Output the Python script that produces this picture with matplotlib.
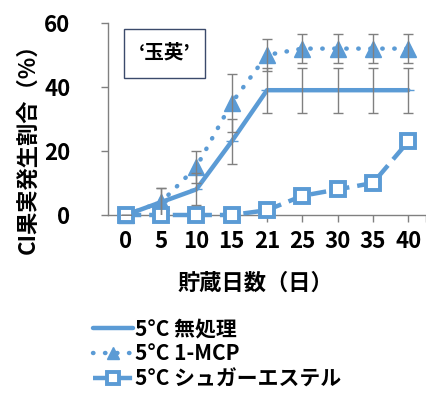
import matplotlib.pyplot as plt
import numpy as np

plt.rcParams['font.family'] = ['Noto Sans CJK JP', 'DejaVu Sans']

days = ['0', '5', '10', '15', '21', '25', '30', '35', '40']
control = [0, 4, 8, 23, 39, 39, 39, 39, 39]
control_err = [0, 4.5, 5, 7, 7, 7, 7, 7, 7]
mcp = [0, 4, 15, 35, 50, 52, 52, 52, 52]
mcp_err = [0, 4.5, 5, 9, 5, 4.5, 4.5, 4.5, 4.5]
sugar = [0, 0, 0, 0, 1.5, 6, 8, 10, 23]
labels = ['5°C 無処理', '5°C 1-MCP', '5°C シュガーエステル']

BLUE = '#5B9BD5'
GRAY = '#808080'

fig = plt.figure(figsize=(4.27, 3.93), dpi=100)
ax = fig.add_axes([108 / 427, 1 - 215 / 393, 318 / 427, 192 / 393])
x = np.arange(len(days))

l1, = ax.plot(x, control, color=BLUE, lw=3.2, solid_capstyle='round',
              marker='_', markersize=8, clip_on=False, zorder=3)
l2, = ax.plot(x, mcp, color=BLUE, lw=3.2, linestyle=(0, (0.1, 2.6)),
              dash_capstyle='round', marker='^', markersize=11,
              markerfacecolor=BLUE, markeredgecolor=BLUE, clip_on=False, zorder=3)
l3, = ax.plot(x, sugar, color=BLUE, lw=3.2, linestyle=(0, (3.5, 1.8)),
              marker='s', markersize=10, markerfacecolor='white',
              markeredgecolor=BLUE, markeredgewidth=2.8, clip_on=False, zorder=3)

# 標準誤差
ax.errorbar(x, control, yerr=control_err, fmt='none', ecolor=GRAY,
            elinewidth=1, capsize=3.5, capthick=1, zorder=4)
ax.errorbar(x, mcp, yerr=mcp_err, fmt='none', ecolor=GRAY,
            elinewidth=1, capsize=3.5, capthick=1, zorder=4)

ax.set_xlim(-0.5, 8.5)
ax.set_ylim(0, 60)
ax.set_yticks([0, 20, 40, 60])
ax.set_xticks(list(x) + [8.5])
ax.set_xticklabels(days + [''])
for s in ['top', 'right']:
    ax.spines[s].set_visible(False)
for s in ['left', 'bottom']:
    ax.spines[s].set_color(GRAY)
    ax.spines[s].set_linewidth(1)
ax.tick_params(axis='both', colors=GRAY, length=5, width=1, labelcolor='black')
ax.tick_params(axis='y', labelsize=16, pad=22)
ax.tick_params(axis='x', labelsize=16, pad=6)
for t in ax.get_xticklabels() + ax.get_yticklabels():
    t.set_fontweight('bold')

ax.text(0.179, 0.841, '‘玉英’', transform=ax.transAxes, fontsize=14,
        fontweight='bold', ha='center', va='center',
        bbox=dict(boxstyle='square,pad=0.75', facecolor='white',
                  edgecolor='#3b4a6b', linewidth=1))

fig.text(28 / 427, 1 - 143 / 393, 'CI果実発生割合（%）', rotation=90,
         fontsize=16, fontweight='bold', ha='center', va='center')
fig.text(255 / 427, 1 - 283 / 393, '貯蔵日数（日）', fontsize=16,
         fontweight='bold', ha='center', va='center')

leg = fig.legend([l1, l2, l3], labels, loc='upper left',
                 bbox_to_anchor=(93 / 427, 1 - 318 / 393), frameon=False,
                 handlelength=1.9, handletextpad=0.1,
                 labelspacing=0.2, borderaxespad=0, borderpad=0,
                 prop={'weight': 'bold', 'size': 15})
for h in leg.legend_handles:
    h.set_markersize(h.get_markersize() * 0.8)

fig.savefig('out.png', dpi=100)
